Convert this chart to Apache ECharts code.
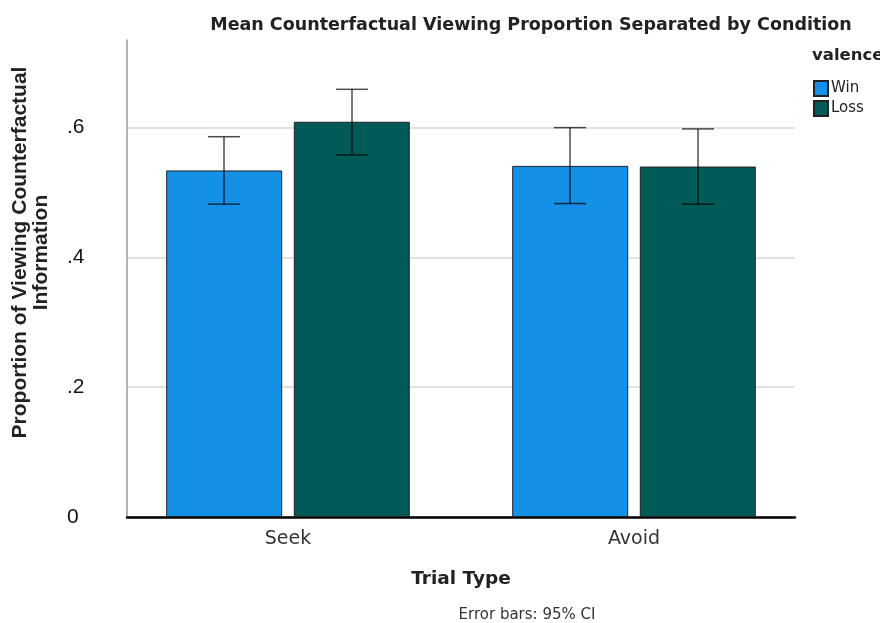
<!DOCTYPE html>
<html>
<head>
<meta charset="utf-8">
<script src="https://cdn.jsdelivr.net/npm/echarts@6/dist/echarts.min.js"></script>
<style>
  html, body { margin: 0; padding: 0; background: #fff; }
  #main { width: 880px; height: 623px; }
</style>
</head>
<body>
<div id="main"></div>
<script>
// data
var categories = ['Seek', 'Avoid'];
var winMean = [0.534, 0.541];
var lossMean = [0.609, 0.540];
var winLow = [0.482, 0.483];
var winHigh = [0.586, 0.600];
var lossLow = [0.558, 0.482];
var lossHigh = [0.659, 0.598];
var yTicks = [0, 0.2, 0.4, 0.6];

var BAR_W = 116;
var OFFSET = 64;   // half of bar + gap
var CAP = 16;

function errorSeries(name, low, high, sign) {
  var data = low.map(function (v, i) { return [i, v, high[i]]; });
  return {
    name: name + ' CI',
    type: 'custom',
    xAxisIndex: 1,
    yAxisIndex: 1,
    z: 10,
    silent: true,
    data: data,
    renderItem: function (params, api) {
      var lo = api.coord([api.value(0), api.value(1)]);
      var hi = api.coord([api.value(0), api.value(2)]);
      var x = lo[0] + sign * OFFSET;
      var st = { stroke: 'rgba(0,0,0,0.7)', lineWidth: 1.5 };
      return {
        type: 'group',
        children: [
          { type: 'line', shape: { x1: x, y1: hi[1], x2: x, y2: lo[1] }, style: st },
          { type: 'line', shape: { x1: x - CAP, y1: hi[1], x2: x + CAP, y2: hi[1] }, style: st },
          { type: 'line', shape: { x1: x - CAP, y1: lo[1], x2: x + CAP, y2: lo[1] }, style: st }
        ]
      };
    }
  };
}

var chart = echarts.init(document.getElementById('main'));
var option = {
  animation: false,
  title: [
    { text: 'Mean Counterfactual Viewing Proportion Separated by Condition', left: 526, top: 11, textAlign: 'center',
      textStyle: { fontFamily: 'DejaVu Sans', fontSize: 17.5, fontWeight: 'bold', color: '#222' } },
    { text: 'valence', left: 807, top: 42,
      textStyle: { fontFamily: 'DejaVu Sans', fontSize: 16.5, fontWeight: 'bold', color: '#222' } },
    { text: 'Error bars: 95% CI', left: 522, top: 603, textAlign: 'center',
      textStyle: { fontFamily: 'DejaVu Sans', fontSize: 15, fontWeight: 'normal', color: '#333' } }
  ],
  legend: {
    data: ['Win', 'Loss'],
    orient: 'vertical',
    left: 808,
    top: 75,
    icon: 'rect',
    itemWidth: 14,
    itemHeight: 15,
    itemGap: 3,
    textStyle: { fontFamily: 'DejaVu Sans', fontSize: 15, color: '#222', padding: [0, 0, 0, -2] }
  },
  grid: [
    { left: 127, right: 85, top: 40, bottom: 106, outerBoundsMode: 'none' },
    { left: 115, right: 73, top: 40, bottom: 106, outerBoundsMode: 'none' }
  ],
  xAxis: [
    { type: 'category', gridIndex: 0, data: categories,
      axisLine: { show: true, lineStyle: { color: '#000', width: 2.5 } },
      axisTick: { show: false }, axisLabel: { show: false } },
    { type: 'category', gridIndex: 1, data: categories,
      axisLine: { show: false }, axisTick: { show: false },
      axisLabel: { margin: 13, fontFamily: 'DejaVu Sans', fontSize: 19, color: '#333' },
      name: 'Trial Type', nameLocation: 'middle', nameGap: 53,
      nameTextStyle: { fontFamily: 'DejaVu Sans', fontSize: 18.5, fontWeight: 'bold', color: '#222' } }
  ],
  yAxis: [
    { type: 'value', gridIndex: 0, min: 0, max: 0.735, interval: 0.2,
      axisLine: { show: true, lineStyle: { color: '#999', width: 1.5 } },
      axisTick: { show: false },
      splitLine: { show: true, showMaxLine: false, lineStyle: { color: '#d8d8d8', width: 1.5 } },
      axisLabel: { margin: 60, align: 'left', fontFamily: 'Liberation Sans', fontSize: 21, color: '#111',
        showMaxLabel: false,
        formatter: function (v) {
          var t = yTicks.filter(function (k) { return Math.abs(k - v) < 1e-6; });
          if (!t.length) return '';
          return v === 0 ? '0' : v.toFixed(1).replace(/^0/, '');
        } },
      name: 'Proportion of Viewing Counterfactual\nInformation', nameLocation: 'middle', nameGap: 75, nameRotate: 90,
      nameTextStyle: { fontFamily: 'Liberation Sans', fontSize: 21, fontWeight: 'bold', color: '#222', lineHeight: 21,
        padding: [0, 0, 0, 52] } },
    { type: 'value', gridIndex: 1, min: 0, max: 0.735, interval: 0.2, show: false, splitLine: { show: false } }
  ],
  series: [
    { name: 'Win', type: 'bar', xAxisIndex: 1, yAxisIndex: 1, data: winMean, barWidth: BAR_W, barGap: '10%',
      itemStyle: { color: '#1490E6', borderColor: '#222', borderWidth: 1 } },
    { name: 'Loss', type: 'bar', xAxisIndex: 1, yAxisIndex: 1, data: lossMean, barWidth: BAR_W, barGap: '10%',
      itemStyle: { color: '#005B57', borderColor: '#222', borderWidth: 1 } },
    errorSeries('Win', winLow, winHigh, -1),
    errorSeries('Loss', lossLow, lossHigh, 1)
  ]
};
chart.setOption(option);
</script>
</body>
</html>
